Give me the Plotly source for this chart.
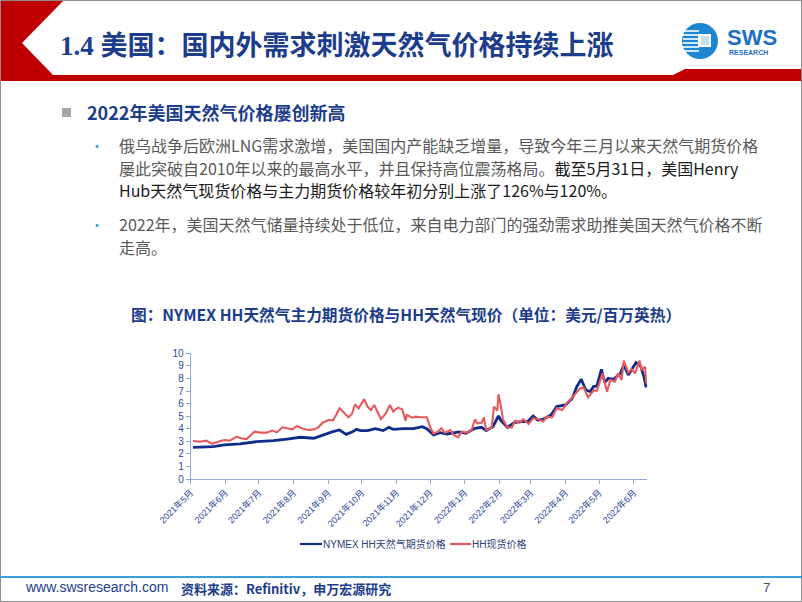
import plotly.graph_objects as go

W, H = 802, 602

# ---------------- data ----------------
spot_dates = [
    "2021-05-03", "2021-05-09", "2021-05-15", "2021-05-20", "2021-05-24", "2021-05-31",
    "2021-06-05", "2021-06-11", "2021-06-15", "2021-06-20", "2021-06-27", "2021-07-02",
    "2021-07-08", "2021-07-13", "2021-07-17", "2021-07-22", "2021-07-26", "2021-07-31",
    "2021-08-04", "2021-08-08", "2021-08-14", "2021-08-19", "2021-08-23", "2021-08-27",
    "2021-09-01", "2021-09-05", "2021-09-08", "2021-09-11", "2021-09-14", "2021-09-19",
    "2021-09-22", "2021-09-25", "2021-09-28", "2021-10-03", "2021-10-06", "2021-10-09",
    "2021-10-12", "2021-10-15", "2021-10-18", "2021-10-22", "2021-10-26", "2021-10-29",
    "2021-11-02", "2021-11-06", "2021-11-09", "2021-11-10", "2021-11-15", "2021-11-18",
    "2021-11-22", "2021-11-28", "2021-12-01", "2021-12-04", "2021-12-08", "2021-12-11",
    "2021-12-14", "2021-12-19", "2021-12-22", "2021-12-26", "2021-12-29", "2022-01-03",
    "2022-01-07", "2022-01-10", "2022-01-12", "2022-01-16", "2022-01-18", "2022-01-20",
    "2022-01-22", "2022-01-25", "2022-01-27", "2022-01-30", "2022-01-31", "2022-02-02",
    "2022-02-04", "2022-02-08", "2022-02-12", "2022-02-15", "2022-02-19", "2022-02-22",
    "2022-02-27", "2022-03-03", "2022-03-08", "2022-03-12", "2022-03-15", "2022-03-20",
    "2022-03-24", "2022-03-29", "2022-04-02", "2022-04-05", "2022-04-09", "2022-04-14",
    "2022-04-17", "2022-04-21", "2022-04-26", "2022-04-29", "2022-05-04", "2022-05-08",
    "2022-05-11", "2022-05-15", "2022-05-18", "2022-05-21", "2022-05-23", "2022-05-27",
    "2022-05-30", "2022-06-02", "2022-06-06", "2022-06-08", "2022-06-11", "2022-06-12",
]
spot_values = [
    3.02, 2.97, 3.05, 2.79, 2.92, 3.10,
    3.05, 3.37, 3.24, 3.18, 3.77, 3.69,
    3.69, 3.85, 3.71, 4.11, 4.03, 3.95,
    4.22, 4.03, 3.90, 3.95, 4.11, 4.48,
    4.69, 4.67, 5.09, 5.62, 5.36, 4.91,
    5.17, 5.94, 5.62, 6.34, 5.76, 5.49,
    5.89, 5.36, 4.77, 5.17, 5.89, 5.36,
    5.68, 5.54, 4.64, 5.09, 4.88, 4.96,
    4.91, 4.91, 4.11, 3.63, 3.77, 4.03,
    3.69, 3.90, 3.50, 3.32, 3.77, 3.69,
    3.90, 4.75, 4.43, 4.48, 4.91, 3.90,
    3.95, 4.11, 5.76, 5.44, 6.74, 5.89,
    4.75, 4.11, 4.11, 4.64, 4.48, 4.75,
    4.38, 4.83, 4.75, 4.56, 4.96, 4.91,
    5.62, 5.49, 6.02, 6.29, 6.68, 7.21,
    7.29, 6.50, 7.03, 7.03, 8.41, 6.95,
    7.88, 7.75, 8.41, 7.88, 9.42, 8.46,
    8.73, 8.41, 9.42, 8.67, 8.94, 7.61,
]

fut_dates = [
    "2021-05-03", "2021-05-21", "2021-05-31", "2021-06-14", "2021-06-29", "2021-07-14",
    "2021-07-26", "2021-08-07", "2021-08-19", "2021-08-27", "2021-09-05", "2021-09-11",
    "2021-09-17", "2021-09-23", "2021-09-26", "2021-09-30", "2021-10-06", "2021-10-13",
    "2021-10-20", "2021-10-25", "2021-10-29", "2021-11-07", "2021-11-16", "2021-11-24",
    "2021-11-28", "2021-12-04", "2021-12-10", "2021-12-16", "2021-12-22", "2021-12-27",
    "2022-01-02", "2022-01-10", "2022-01-16", "2022-01-20", "2022-01-26", "2022-01-31",
    "2022-02-02", "2022-02-08", "2022-02-14", "2022-02-20", "2022-02-26", "2022-03-03",
    "2022-03-07", "2022-03-12", "2022-03-19", "2022-03-24", "2022-04-01", "2022-04-07",
    "2022-04-11", "2022-04-15", "2022-04-19", "2022-04-23", "2022-04-26", "2022-04-29",
    "2022-05-03", "2022-05-06", "2022-05-09", "2022-05-14", "2022-05-20", "2022-05-23",
    "2022-05-27", "2022-05-30", "2022-06-03", "2022-06-07", "2022-06-10", "2022-06-12",
]
fut_values = [
    2.52, 2.57, 2.71, 2.79, 2.97, 3.05,
    3.18, 3.32, 3.24, 3.50, 3.77, 3.90,
    3.55, 3.77, 3.95, 3.85, 3.85, 4.00,
    3.85, 4.11, 3.95, 4.00, 4.00, 4.16,
    4.00, 3.50, 3.69, 3.58, 3.69, 3.74,
    3.63, 4.03, 4.11, 3.85, 4.16, 5.01,
    4.69, 4.11, 4.48, 4.56, 4.56, 5.01,
    4.69, 4.75, 5.09, 5.76, 5.89, 6.42,
    7.35, 7.93, 7.08, 6.95, 7.35, 7.40,
    8.73, 7.67, 8.01, 7.93, 8.41, 9.07,
    8.28, 8.73, 9.26, 8.99, 8.14, 7.29,
]

tick_dates = [
    "2021-05-01", "2021-06-01", "2021-07-01", "2021-08-01", "2021-09-01", "2021-10-01",
    "2021-11-01", "2021-12-01", "2022-01-01", "2022-02-01", "2022-03-01", "2022-04-01",
    "2022-05-01", "2022-06-01",
]
tick_labels = [
    "2021年5月", "2021年6月", "2021年7月", "2021年8月", "2021年9月", "2021年10月",
    "2021年11月", "2021年12月", "2022年1月", "2022年2月", "2022年3月", "2022年4月",
    "2022年5月", "2022年6月",
]

series_names = ["NYMEX HH天然气期货价格", "HH现货价格"]

# ---------------- styles ----------------
NAVY = "#1C3C8C"
BLUE_LINE = "#0E2C8A"
RED_LINE = "#E65A5E"
AXIS = "#8EAADB"
TICKC = "#2B4A9A"
CJK = "Noto Sans CJK SC"


def X(px):
    return px / W


def Y(py):
    return 1 - py / H


fig = go.Figure()
fig.add_trace(go.Scatter(x=fut_dates, y=fut_values, mode="lines", name=series_names[0],
                         line=dict(color=BLUE_LINE, width=2.8), showlegend=False))
fig.add_trace(go.Scatter(x=spot_dates, y=spot_values, mode="lines", name=series_names[1],
                         line=dict(color=RED_LINE, width=2.1), showlegend=False))

shapes = []
ann = []


def text(x, y, t, size, color, family=CJK, xanchor="left"):
    ann.append(dict(xref="paper", yref="paper", x=X(x), y=Y(y), text=t, showarrow=False,
                    xanchor=xanchor, yanchor="middle", borderpad=0,
                    font=dict(family=family, size=size, color=color)))


# slide border
shapes.append(dict(type="rect", xref="paper", yref="paper", x0=X(0.5), x1=X(801.5),
                   y0=Y(601.5), y1=Y(0.5), line=dict(color="#8C8C8C", width=1), layer="below"))
# red header chevron + band
pts = [(1, 1), (63, 1), (22, 43), (53, 75), (673, 75), (685, 69), (801, 69), (801, 81), (1, 81)]
path = "M " + " L ".join(f"{X(a)},{Y(b)}" for a, b in pts) + " Z"
shapes.append(dict(type="path", xref="paper", yref="paper", path=path,
                   fillcolor="#C00000", line=dict(width=0)))

# logo
shapes.append(dict(type="circle", xref="paper", yref="paper", x0=X(682), x1=X(718),
                   y0=Y(59), y1=Y(23), fillcolor="#1D86D0", line=dict(width=0)))
for yy in [31, 35, 39, 43, 47, 51]:
    shapes.append(dict(type="line", xref="paper", yref="paper", x0=X(683), x1=X(699),
                       y0=Y(yy), y1=Y(yy), line=dict(color="white", width=1.6)))
shapes.append(dict(type="rect", xref="paper", yref="paper", x0=X(698), x1=X(711),
                   y0=Y(47), y1=Y(34), fillcolor="white", line=dict(width=0)))
shapes.append(dict(type="rect", xref="paper", yref="paper", x0=X(701), x1=X(709),
                   y0=Y(45), y1=Y(36), fillcolor="#BFE1F6", line=dict(width=0)))
text(726, 38, "<b>SWS</b>", 22, "#1D6FC2", "Liberation Sans")
text(728, 53, "<b>RESEARCH</b>", 7, "#1D6FC2", "Liberation Sans")

# title
text(59, 46, "<b>1.4 美国：国内外需求刺激天然气价格持续上涨</b>", 27, NAVY,
     f"Liberation Serif, {CJK}")

# section heading
shapes.append(dict(type="rect", xref="paper", yref="paper", x0=X(62), x1=X(71),
                   y0=Y(117), y1=Y(108), fillcolor="#A6A6A6", line=dict(width=0)))
text(86, 112, "<b>2022年美国天然气价格屡创新高</b>", 18, NAVY)

GREY = "#595959"
DARK = "#1A1A1A"
body = [
    (145, f"<span style='color:{GREY}'>俄乌战争后欧洲LNG需求激增，美国国内产能缺乏增量，导致今年三月以来天然气期货价格</span>"),
    (168, f"<span style='color:{GREY}'>屡此突破自2010年以来的最高水平，并且保持高位震荡格局。</span><span style='color:{DARK}'>截至5月31日，美国Henry</span>"),
    (190, f"<span style='color:{DARK}'>Hub天然气现货价格与主力期货价格较年初分别上涨了126%与120%。</span>"),
    (224, f"<span style='color:{GREY}'>2022年，美国天然气储量持续处于低位，来自电力部门的强劲需求助推美国天然气价格不断</span>"),
    (247, f"<span style='color:{GREY}'>走高。</span>"),
]
for yy, t in body:
    text(118, yy, t, 16, GREY)
for yy in [145, 224]:
    text(97, yy, "•", 14, "#3A9AD4", xanchor="center")

# chart title
text(406, 314, "<b>图：NYMEX HH天然气主力期货价格与HH天然气现价（单位：美元/百万英热）</b>", 15.7, NAVY,
     xanchor="center")

# legend (manual)
shapes.append(dict(type="line", xref="paper", yref="paper", x0=X(300), x1=X(322),
                   y0=Y(544), y1=Y(544), line=dict(color=BLUE_LINE, width=2.2)))
text(322, 544, series_names[0], 10, "#2B3F7A", f"Liberation Sans, {CJK}")
shapes.append(dict(type="line", xref="paper", yref="paper", x0=X(450), x1=X(471),
                   y0=Y(544), y1=Y(544), line=dict(color=RED_LINE, width=2.2)))
text(471, 544, series_names[1], 10, "#2B3F7A", f"Liberation Sans, {CJK}")

# footer
shapes.append(dict(type="line", xref="paper", yref="paper", x0=0, x1=1, y0=Y(577), y1=Y(577),
                   line=dict(color="#3AA0DA", width=2)))
text(24, 587, "www.swsresearch.com", 14, "#1F3D8F", "Liberation Sans Narrow, Liberation Sans")
text(180, 588, "<b>资料来源：Refinitiv，申万宏源研究</b>", 13, NAVY)
text(766, 587, "7", 13, "#3A4A7A", "Liberation Sans", xanchor="center")

fig.update_layout(
    template="none",
    width=W, height=H, autosize=False,
    margin=dict(l=0, r=0, t=0, b=0, pad=0),
    paper_bgcolor="white", plot_bgcolor="white",
    shapes=shapes, annotations=ann, showlegend=False,
    xaxis=dict(domain=[X(190.7), X(647.3)], type="date", automargin=False,
               range=["2021-05-01", "2022-06-13"],
               tickmode="array", tickvals=tick_dates, ticktext=tick_labels,
               tickangle=-45, tickfont=dict(family=f"Liberation Sans, {CJK}", size=9, color=TICKC),
               showgrid=False, zeroline=False, showline=True, linecolor=AXIS, linewidth=1,
               ticks="outside", ticklen=4, tickcolor=AXIS, fixedrange=True),
    yaxis=dict(domain=[Y(479), Y(353.3)], range=[0, 10], dtick=1, tick0=0, automargin=False,
               tickfont=dict(family="Liberation Sans", size=10, color=TICKC),
               showgrid=False, zeroline=False, showline=True, linecolor=AXIS, linewidth=1,
               ticks="outside", ticklen=4, tickcolor=AXIS, fixedrange=True),
)

fig.write_html("out.html")
